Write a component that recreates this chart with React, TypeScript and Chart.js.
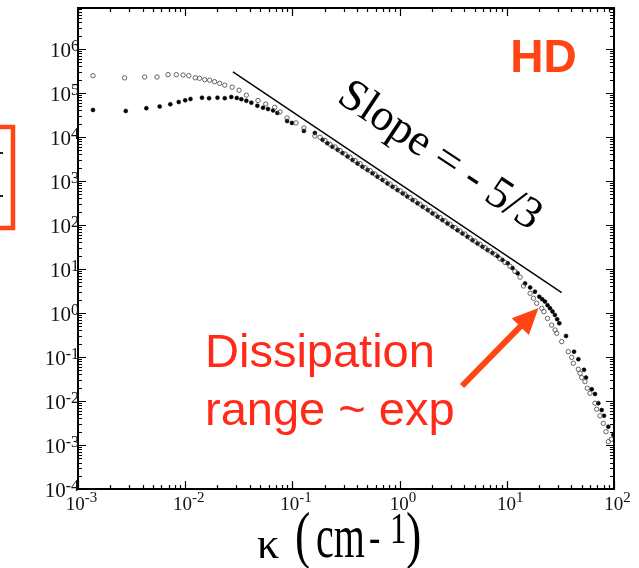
import React, { useEffect, useRef } from 'react';
import { Chart, registerables } from 'chart.js';

Chart.register(...registerables);

// ---- data (wavenumber k in cm^-1, spectrum E) ----
const openK = [
  0.00138, 0.00272, 0.00419, 0.00546, 0.00692, 0.00826, 0.00955, 0.0108, 0.0124, 0.0136,
  0.0152, 0.0169, 0.0188, 0.021, 0.0234, 0.0274, 0.0318, 0.0372, 0.0478, 0.0564,
  0.0684, 0.0767, 0.0892, 0.108, 0.128, 0.162,
  0.181, 0.201, 0.224, 0.25, 0.278, 0.31, 0.345, 0.384, 0.427, 0.476,
  0.53, 0.589, 0.656, 0.731, 0.814, 0.906, 1.01, 1.12, 1.25, 1.39,
  1.55, 1.73, 1.92, 2.14, 2.38, 2.65, 2.95, 3.29, 3.66, 4.08,
  4.54, 5.05, 5.62, 6.26, 6.97, 7.76, 8.64, 9.62, 10.7, 11.9, 13.3,
  14.3, 16.5, 17.7, 19.0, 21.2, 22.2, 24.0, 26.2, 28.2, 29.2,
  32.5, 37.5, 40.3, 41.7, 46.5, 48.2, 50.0, 53.6, 56.3, 59.7,
  66.5, 68.9, 74.0, 79.4, 84.2, 88.5, 94.5,
];
const openE = [
  2.46e5, 2.2e5, 2.3e5, 2.3e5, 2.6e5, 2.6e5, 2.55e5, 2.46e5, 2.2e5, 2.15e5,
  2.0e5, 1.95e5, 1.8e5, 1.65e5, 1.5e5, 1.35e5, 1.15e5, 8.9e4, 6.7e4, 5.6e4,
  4.7e4, 3.7e4, 2.7e4, 2.08e4, 1.6e4, 1.05e4,
  9.8e3, 8.3e3, 6.8e3, 5.9e3, 4.9e3, 4.1e3, 3.45e3, 2.9e3, 2.45e3, 2.0e3,
  1.72e3, 1.43e3, 1.2e3, 1010, 850, 715, 600, 505, 420, 355,
  298, 250, 210, 176, 148, 124, 104, 87, 73, 62,
  51, 43, 36.5, 30.5, 26, 21.5, 17, 14, 11.5, 8.8, 6.5,
  4.1, 2.8, 2.16, 1.66, 1.28, 1.07, 0.75, 0.53, 0.41, 0.346,
  0.223, 0.132, 0.098, 0.072, 0.0525, 0.0426, 0.0339, 0.0275, 0.0195, 0.015,
  0.0089, 0.0065, 0.0046, 0.0031, 0.002, 0.00119, 0.00135,
];
const filledK = [
  0.00138, 0.00279, 0.00434, 0.00578, 0.00726, 0.0087, 0.01, 0.0112, 0.01434, 0.0167,
  0.02, 0.0234, 0.0269, 0.0303, 0.0334, 0.0372, 0.0414, 0.0471, 0.0532, 0.0592,
  0.066, 0.0724, 0.0892, 0.099, 0.128, 0.162,
  0.191, 0.212, 0.236, 0.264, 0.293, 0.327, 0.364, 0.405, 0.45, 0.502,
  0.559, 0.621, 0.692, 0.771, 0.859, 0.956, 1.07, 1.18, 1.32, 1.47,
  1.64, 1.83, 2.03, 2.26, 2.51, 2.8, 3.11, 3.47, 3.86, 4.3,
  4.79, 5.33, 5.93, 6.6, 7.35, 8.19, 9.12, 10.2, 11.3, 12.6,
  14.8, 16.5, 18.3, 20.1, 21.4, 22.7, 24.0, 25.3, 26.7, 28.1,
  29.5, 30.9, 35.7, 42.4, 46.5, 52.5, 54.8, 62.0, 66.5, 71.4,
  76.8, 80.7, 88.5, 98.6,
];
const filledE = [
  4.1e4, 3.9e4, 4.5e4, 4.9e4, 5.5e4, 6.2e4, 6.8e4, 7.3e4, 7.8e4, 7.6e4,
  7.8e4, 7.6e4, 8.1e4, 7.7e4, 7.2e4, 6.6e4, 6.0e4, 5.1e4, 4.6e4, 4.3e4,
  4.0e4, 3.5e4, 2.3e4, 2.08e4, 1.37e4, 1.23e4,
  8.6e3, 7.2e3, 6.0e3, 5.1e3, 4.3e3, 3.6e3, 3.0e3, 2.5e3, 2.1e3, 1.78e3,
  1.49e3, 1.25e3, 1.05e3, 880, 740, 620, 520, 440, 370, 310,
  260, 218, 183, 154, 129, 108, 91, 76, 64, 54,
  45, 38, 32, 27, 23, 19.5, 16, 13.5, 10.5, 8,
  4.7, 3.8, 3.05, 2.35, 2.05, 1.81, 1.5, 1.28, 1.08, 0.9,
  0.72, 0.58, 0.3, 0.132, 0.089, 0.051, 0.034, 0.0185, 0.0144, 0.0089,
  0.0062, 0.0046, 0.0026, 0.0017,
];
// reference line, slope -5/3
const slopeK = [0.0279, 32.5];
const slopeE = [3.0e5, 2.9];

const xTickExps = [-3, -2, -1, 0, 1, 2];
const yTickExps = [-4, -3, -2, -1, 0, 1, 2, 3, 4, 5, 6];
const X_MIN = 1e-3;
const X_MAX = 1e2;
const Y_MIN = 1e-4;
const Y_MAX = 8.5e6;

const SERIF = '"Liberation Serif", "DejaVu Serif", serif';
const SANS = '"Liberation Sans", Arial, sans-serif';

function stretchedText(ctx: CanvasRenderingContext2D, text: string, x: number, baseline: number, font: string, sy: number) {
  ctx.save();
  ctx.translate(x, baseline);
  ctx.scale(1, sy);
  ctx.font = font;
  ctx.fillText(text, 0, 0);
  ctx.restore();
}

const overlay = {
  id: 'overlay',
  beforeDraw(chart: any) {
    const ctx = chart.ctx;
    ctx.save();
    ctx.fillStyle = '#ffffff';
    ctx.fillRect(0, 0, chart.width, chart.height);
    ctx.restore();
  },
  afterDraw(chart: any) {
    const ctx: CanvasRenderingContext2D = chart.ctx;
    const { left, right, top, bottom } = chart.chartArea;
    const xs = chart.scales.x;
    const ys = chart.scales.y;
    ctx.save();

    // frame
    ctx.strokeStyle = '#000';
    ctx.lineWidth = 2;
    ctx.strokeRect(left, top, right - left, bottom - top);

    // inward ticks
    ctx.lineWidth = 1.2;
    ctx.beginPath();
    for (const e of xTickExps) {
      for (let m = 1; m <= 9; m++) {
        const v = m * Math.pow(10, e);
        if (v > X_MAX * 1.0001) break;
        const px = Math.round(xs.getPixelForValue(v)) + 0.5;
        const len = m === 1 ? 8 : 4;
        ctx.moveTo(px, bottom);
        ctx.lineTo(px, bottom - len);
        ctx.moveTo(px, top);
        ctx.lineTo(px, top + len);
      }
    }
    for (const e of yTickExps) {
      for (let m = 1; m <= 9; m++) {
        const v = m * Math.pow(10, e);
        if (v > Y_MAX) break;
        const py = Math.round(ys.getPixelForValue(v)) + 0.5;
        const len = m === 1 ? 8 : 4;
        ctx.moveTo(left, py);
        ctx.lineTo(left + len, py);
        ctx.moveTo(right, py);
        ctx.lineTo(right - len, py);
      }
    }
    ctx.stroke();

    // tick labels
    ctx.fillStyle = '#111';
    ctx.textBaseline = 'alphabetic';
    ctx.textAlign = 'left';
    for (const e of yTickExps) {
      const py = ys.getPixelForValue(Math.pow(10, e));
      const sup = String(e);
      ctx.font = `16px ${SERIF}`;
      const sw = ctx.measureText(sup).width;
      ctx.font = `21px ${SERIF}`;
      const bw = ctx.measureText('10').width;
      const sx = 79 - sw;
      ctx.fillText('10', sx - bw, py + 8);
      ctx.font = `16px ${SERIF}`;
      ctx.fillText(sup, sx, py + 2);
    }
    for (const e of xTickExps) {
      const px = xs.getPixelForValue(Math.pow(10, e));
      const sup = String(e);
      ctx.font = `15px ${SERIF}`;
      const sw = ctx.measureText(sup).width;
      ctx.font = `19px ${SERIF}`;
      const bw = ctx.measureText('10').width;
      const start = px + 3.5 - (bw + sw) / 2;
      ctx.fillText('10', start, bottom + 21);
      ctx.font = `15px ${SERIF}`;
      ctx.fillText(sup, start + bw, bottom + 13);
    }

    // axis title: kappa (cm^-1)
    ctx.fillStyle = '#000';
    stretchedText(ctx, '\u03ba', 257, 558, `44px ${SERIF}`, 1.0);
    stretchedText(ctx, '(', 295, 556, `46px ${SERIF}`, 1.37);
    stretchedText(ctx, 'cm', 316, 557, `40px ${SERIF}`, 1.55);
    stretchedText(ctx, '-', 369, 552, `34px ${SERIF}`, 1.3);
    stretchedText(ctx, '1', 390, 543, `33px ${SERIF}`, 1.35);
    stretchedText(ctx, ')', 406, 556, `46px ${SERIF}`, 1.37);

    // Slope label
    ctx.save();
    ctx.translate(433, 166);
    ctx.rotate((33.7 * Math.PI) / 180);
    ctx.font = `45px ${SERIF}`;
    ctx.textAlign = 'center';
    ctx.fillStyle = '#000';
    ctx.fillText('Slope = - 5/3', 0, 0);
    ctx.restore();

    // HD
    ctx.font = `bold 46px ${SANS}`;
    ctx.textAlign = 'center';
    ctx.fillStyle = '#ff4513';
    ctx.fillText('HD', 543.5, 72);

    // Dissipation annotation
    ctx.font = `47px ${SANS}`;
    ctx.textAlign = 'left';
    ctx.fillStyle = '#ff2a1a';
    ctx.fillText('Dissipation', 205, 367);
    ctx.fillText('range ~ exp', 205, 425);

    // arrow
    const tx = 462, ty = 386, hx = 538.5, hy = 308;
    const dx = hx - tx, dy = hy - ty;
    const L = Math.hypot(dx, dy);
    const ux = dx / L, uy = dy / L;
    const headLen = 26, headW = 12;
    const bx = hx - ux * headLen, by = hy - uy * headLen;
    ctx.strokeStyle = '#ff4513';
    ctx.fillStyle = '#ff4513';
    ctx.lineWidth = 6;
    ctx.lineCap = 'butt';
    ctx.beginPath();
    ctx.moveTo(tx, ty);
    ctx.lineTo(bx + ux * 2, by + uy * 2);
    ctx.stroke();
    ctx.beginPath();
    ctx.moveTo(hx, hy);
    ctx.lineTo(bx - uy * headW, by + ux * headW);
    ctx.lineTo(bx + uy * headW, by - ux * headW);
    ctx.closePath();
    ctx.fill();

    // partial orange box at the left edge
    ctx.strokeStyle = '#ff4513';
    ctx.lineWidth = 4.5;
    ctx.strokeRect(-10, 127, 23, 101);
    ctx.fillStyle = '#222';
    ctx.fillRect(0, 152, 3, 2);
    ctx.fillRect(0, 195, 3, 2);

    ctx.restore();
  },
};

export default function App() {
  const ref = useRef<HTMLCanvasElement | null>(null);
  useEffect(() => {
    document.body.style.margin = '0';
    const openData = openK.map((k, i) => ({ x: k, y: openE[i] }));
    const filledData = filledK.map((k, i) => ({ x: k, y: filledE[i] }));
    const slopeData = slopeK.map((k, i) => ({ x: k, y: slopeE[i] }));
    const chart = new Chart(ref.current as HTMLCanvasElement, {
      type: 'scatter',
      data: {
        datasets: [
          {
            label: 'open',
            data: openData,
            showLine: false,
            pointRadius: 2.2,
            pointBorderWidth: 0.9,
            pointBackgroundColor: 'rgba(255,255,255,0)',
            pointBorderColor: '#555',
          },
          {
            label: 'filled',
            data: filledData,
            showLine: false,
            pointRadius: 2,
            pointBorderWidth: 0.5,
            pointBackgroundColor: '#000',
            pointBorderColor: '#000',
          },
          {
            label: 'slope',
            data: slopeData,
            showLine: true,
            pointRadius: 0,
            borderColor: '#000',
            borderWidth: 1.4,
            fill: false,
          },
        ],
      },
      options: {
        animation: false,
        responsive: false,
        devicePixelRatio: 1,
        layout: { padding: { left: 78, right: 25, top: 8, bottom: 79 } },
        plugins: { legend: { display: false }, tooltip: { enabled: false } },
        scales: {
          x: { type: 'logarithmic', min: X_MIN, max: X_MAX, display: false },
          y: { type: 'logarithmic', min: Y_MIN, max: Y_MAX, display: false },
        },
      },
      plugins: [overlay],
    } as any);
    return () => chart.destroy();
  }, []);
  return (
    <div style={{ position: 'absolute', left: 0, top: 0, width: 639, height: 568, background: '#fff' }}>
      <canvas ref={ref} width={639} height={568} style={{ display: 'block', width: 639, height: 568 }} />
    </div>
  );
}
